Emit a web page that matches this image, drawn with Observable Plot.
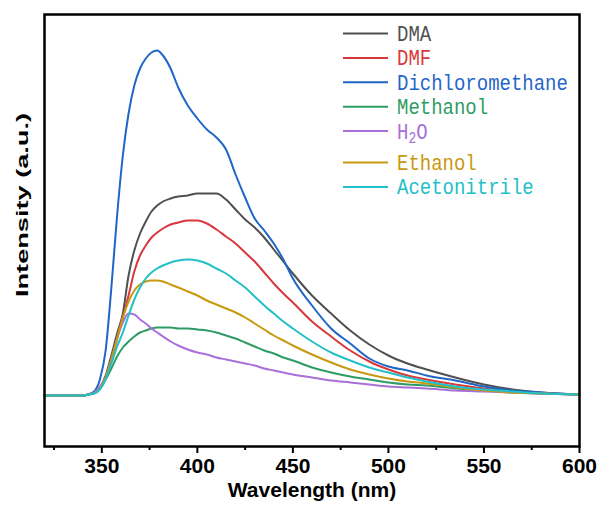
<!DOCTYPE html>
<html><head><meta charset="utf-8">
<script src="https://cdn.jsdelivr.net/npm/d3@7"></script>
<script src="https://cdn.jsdelivr.net/npm/@observablehq/plot@0.6"></script>
<style>
body{margin:0;background:#fff;}
#wrap{position:relative;width:601px;height:511px;}
#legend{position:absolute;left:0;top:0;pointer-events:none;}
</style></head><body><div id="wrap"></div>
<script>
// Wavelength grid (nm)
const wavelength = [320,340,343,346,349,352,355,358,361,364,367,370,373,376,379,382,386,390,395,400,405,410,415,420,425,430,435,440,445,450,460,470,480,490,500,510,520,535,550,565,580,600];
// Intensity (a.u.) per solvent
const DMA          = [0,0,1,3,8,20,40,62,82,120,145,162,174,184,190,194,197,199,200,202,202,202,196,186,176,168,158,146,134,122,100,82,65,51,40,32,26,18,11,6,3,1];
const DMF          = [0,0,1,3,7,18,36,57,78,100,124,140,150,158,163,167,171,173,175,175,172,166,159,152,143,134,123,112,102,93,74,59,45,34,26,20,16,11,7,4,2,1];
const DCM          = [0,0,1,4,16,45,108,180,240,282,310,327,337,343,345,340,327,308,290,277,266,258,246,221,198,177,165,152,136,117,90,67,52,37,29,25,20,15,9,5,3,1];
const Methanol     = [0,0,1,3,8,16,27,39,48,54,59,63,65,67,68,68,68,67,67,66,65,63,60,57,53,49,45,42,38,35,28,23,19,16,13,11,10,7,5,3,2,1];
const H2O          = [0,0,1,3,9,18,36,57,73,82,81,76,72,67,63,59,54,50,46,43,41,38,36,34,32,30,27,25,23,21,18,15,13,11,9,8,7,5,4,3,2,1];
const Ethanol      = [0,0,1,2,7,18,36,57,78,94,105,111,114,115,115,114,111,108,104,100,95,91,87,83,78,72,66,60,55,50,41,33,26,21,17,14,12,8,5,3,2,1];
const Acetonitrile = [0,0,1,2,6,16,32,49,63,80,96,108,117,123,127,130,133,135,136,135,132,127,122,115,108,99,90,82,74,67,54,43,35,28,23,18,14,9,6,4,2,1];

const seriesNames  = ["DMA","DMF","Dichloromethane","Methanol","H2O","Ethanol","Acetonitrile"];
const seriesColors = ["#505050","#d8383c","#1f66c6","#2e9c64","#a870d8","#c8990f","#22c0c8"];
const xTicks       = [350,400,450,500,550,600];
const xMinorTicks  = [325,375,425,475,525,575];

const seriesValues = [DMA, DMF, DCM, Methanol, H2O, Ethanol, Acetonitrile];
const rows = seriesNames.flatMap((name, i) =>
  wavelength.map((w, j) => ({name, w, v: seriesValues[i][j]})));

const chart = Plot.plot({
  width: 601, height: 511,
  marginLeft: 44, marginRight: 22, marginTop: 14, marginBottom: 65,
  style: {fontFamily: "'Liberation Sans', Arial, sans-serif", background: "white", overflow: "visible"},
  x: {domain: [320, 600]},
  y: {domain: [-51, 381], axis: null},
  color: {domain: seriesNames, range: seriesColors},
  marks: [
    Plot.line(rows, {x: "w", y: "v", z: "name", stroke: "name", strokeWidth: 2, curve: "monotone-x"}),
    Plot.axisX({ticks: xMinorTicks, tickSize: 4, strokeWidth: 2, text: null, label: null, color: "black"}),
    Plot.axisX({ticks: xTicks, tickSize: 7, strokeWidth: 2, tickPadding: 5, fontSize: 21, fontWeight: "bold", label: null, color: "black"}),
    Plot.frame({stroke: "black", strokeWidth: 2.5}),
    Plot.text(["Wavelength (nm)"], {frameAnchor: "bottom", dy: 50, fontSize: 21, fontWeight: "bold", fill: "black"})
  ]
});
document.getElementById("wrap").appendChild(chart);

// overlay: y-axis title and legend
const leg = d3.select("#wrap").append("svg").attr("id", "legend").attr("width", 601).attr("height", 511);
leg.append("text")
  .attr("transform", "translate(22,297) rotate(-90)")
  .attr("text-anchor", "start")
  .attr("dominant-baseline", "central")
  .attr("font-family", "'Liberation Sans', Arial, sans-serif")
  .attr("font-weight", "bold")
  .attr("font-size", 17)
  .attr("textLength", 184)
  .attr("lengthAdjust", "spacingAndGlyphs")
  .attr("fill", "black")
  .text("Intensity (a.u.)");

seriesNames.forEach((name, i) => {
  const y = 33.5 + i * 24.4 + (i >= 5 ? 7 : 0);
  const g = leg.append("g");
  g.append("line").attr("x1", 343).attr("x2", 388).attr("y1", y).attr("y2", y)
    .attr("stroke", seriesColors[i]).attr("stroke-width", 2);
  const t = g.append("text")
    .attr("transform", `translate(397,${y + 1.5}) scale(1,1.2)`)
    .attr("dominant-baseline", "central")
    .attr("fill", seriesColors[i])
    .attr("font-family", "'Liberation Mono', 'DejaVu Sans Mono', monospace")
    .attr("font-size", 19);
  if (name === "H2O") {
    t.append("tspan").text("H");
    t.append("tspan").attr("font-size", 13).attr("dy", 5).text("2");
    t.append("tspan").attr("dy", -5).text("O");
  } else {
    t.text(name);
  }
});
</script></body></html>
